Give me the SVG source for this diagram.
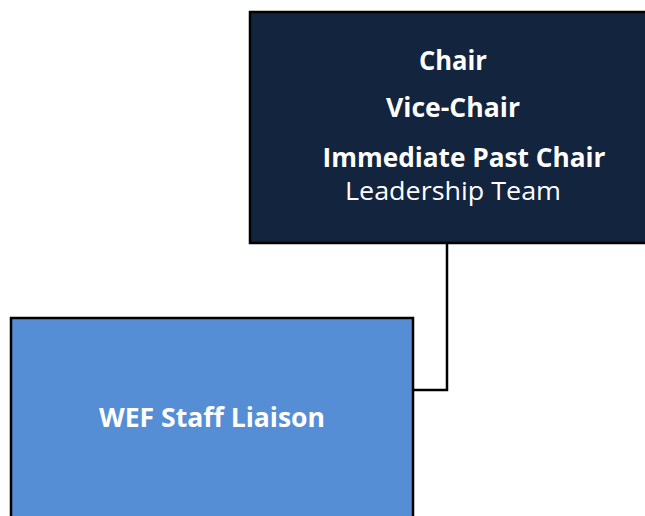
<svg xmlns="http://www.w3.org/2000/svg" width="645" height="516" viewBox="0 0 645 516">
<style>
.box{stroke:#000;stroke-width:2.5}
.t{fill:#fff;font-family:"Open Sans","Noto Sans",sans-serif;text-anchor:middle;font-size:26px}
.b{font-weight:bold}
.conn{fill:none;stroke:#000;stroke-width:2.5}
</style>
<rect width="645" height="516" fill="#fff"/>
<g id="connectors">
<polyline class="conn" points="447,243 447,390 413,390"/>
</g>
<g id="leadership">
<rect class="box" x="250" y="12" width="400" height="231" fill="#13243f"/>
<text class="t b" x="453" y="70" textLength="68" lengthAdjust="spacingAndGlyphs">Chair</text>
<text class="t b" x="453" y="117" textLength="134" lengthAdjust="spacingAndGlyphs">Vice-Chair</text>
<text class="t b" x="464" y="167" textLength="283" lengthAdjust="spacingAndGlyphs">Immediate Past Chair</text>
<text class="t" x="453" y="200" textLength="216" lengthAdjust="spacingAndGlyphs">Leadership Team</text>
</g>
<g id="staff">
<rect class="box" x="11" y="318" width="402" height="210" fill="#558ed5"/>
<text class="t b" x="212" y="427" textLength="226" lengthAdjust="spacingAndGlyphs">WEF Staff Liaison</text>
</g>
</svg>
